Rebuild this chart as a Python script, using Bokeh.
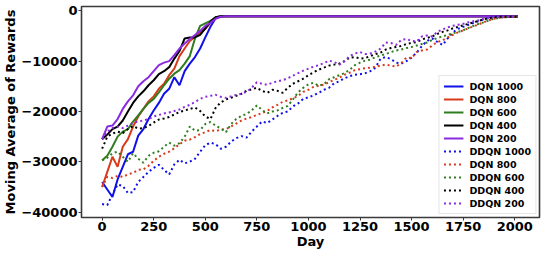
from bokeh.plotting import figure
from bokeh.models import Range1d, FixedTicker
from bokeh.embed import file_html
from bokeh.resources import INLINE

# ---------------- data ----------------
x_ticks = [0, 250, 500, 750, 1000, 1250, 1500, 1750, 2000]
y_ticks = [0, -10000, -20000, -30000, -40000]
y_tick_labels = ["0", "\u221210000", "\u221220000", "\u221230000", "\u221240000"]

dqn_days = [0, 25, 50, 75, 100, 125, 150, 175, 200, 225, 250, 275, 300, 325, 350,
            375, 400, 425, 450, 475, 500, 525, 550, 575, 600, 800, 1200, 1600, 2015]

dqn_1000 = [-34000, -35500, -37000, -33500, -31000, -28500, -28000, -24800, -23500, -21500,
            -19800, -18300, -16500, -15500, -13200, -14800, -12000, -10500, -9200, -7500,
            -5300, -3200, -1500, -1150, -1100,
            -1100, -1100, -1100, -1100]
dqn_800 = [-35000, -32000, -29000, -31000, -27000, -25500, -23000, -21000, -19500, -18000,
           -17000, -15500, -14500, -12800, -11500, -9000, -7500, -6000, -5200, -4300,
           -3600, -2400, -1400, -1150, -1100,
           -1100, -1100, -1100, -1100]
dqn_600 = [-29700, -28800, -27000, -25000, -24000, -23500, -22000, -20800, -19500, -18300,
           -17500, -16200, -14800, -13500, -12500, -11800, -10500, -9000, -5500, -3000,
           -2500, -2000, -1300, -1100, -1100,
           -1100, -1100, -1100, -1100]
dqn_400 = [-25500, -24600, -23500, -23000, -21800, -20000, -18300, -17000, -16000, -14800,
           -13800, -12600, -12000, -11200, -9500, -8000, -5500, -5300, -5300, -4800,
           -3500, -2200, -1300, -1100, -1100,
           -1100, -1100, -1100, -1100]
dqn_200 = [-25500, -23000, -22800, -21500, -19500, -18000, -16800, -15000, -14000, -13200,
           -12000, -10800, -10300, -10000, -8800, -7500, -6500, -5600, -4800, -4000,
           -3000, -2400, -1600, -1200, -1100,
           -1100, -1100, -1100, -1100]

ddqn_days = list(range(0, 1976, 25)) + [2015]

ddqn_1000 = [-38400, -38600, -36500, -34500, -34800, -36200, -36000, -34000, -33000, -32000,
             -31200, -30600, -31600, -32500, -30500, -29600, -30300, -30000, -29400, -28000,
             -26700, -26200, -26500, -27400, -27000, -26000, -25300, -24900, -25200, -24000,
             -23000, -22000, -22300, -21600, -20900, -20300, -20000, -19000, -18400, -17500,
             -17200, -16800, -16300, -15700, -15300, -14400, -14000, -13400, -13000, -12700,
             -12600, -12400, -12000, -11300, -9500, -9200, -9600, -10300, -10500, -10000,
             -9300, -8300, -7000, -6000, -5500, -6200, -6800, -5500, -4300, -3600,
             -3200, -2800, -2400, -2100, -1700, -1400, -1250, -1200, -1200, -1200,
             -1200]
ddqn_800 = [-35000, -33000, -33200, -32800, -33000, -32500, -32200, -31600, -31500, -30800,
            -29800, -29000, -28400, -28000, -27300, -26500, -25800, -25600, -25100, -24500,
            -24100, -23700, -23900, -23600, -23500, -23000, -22400, -21800, -21400, -21100,
            -20700, -20300, -19900, -19200, -18700, -18100, -17800, -17400, -16900, -16100,
            -15700, -15100, -14900, -14700, -14200, -13700, -13300, -12700, -12300, -11800,
            -11600, -11400, -11300, -11100, -10900, -10700, -10900, -11100, -10400, -9300,
            -9400, -8200, -7900, -7700, -6900, -6200, -5900, -5300, -4800, -4300,
            -3900, -3500, -3100, -2700, -2300, -1900, -1600, -1400, -1300, -1200,
            -1200]
ddqn_600 = [-29700, -29200, -28300, -28000, -29000, -30000, -28300, -29400, -30200, -28800,
            -28200, -27900, -27000, -26200, -26800, -26300, -25000, -23000, -23800, -23700,
            -22500, -22100, -22800, -23400, -24100, -22500, -21500, -20900, -20500, -19800,
            -18800, -19700, -20400, -20000, -19800, -19300, -18900, -17600, -16200, -15300,
            -14600, -14300, -14900, -14600, -13600, -13200, -12800, -12400, -11700, -10800,
            -10300, -9900, -9700, -9200, -8900, -8600, -8200, -7900, -7700, -7400,
            -7200, -6900, -6600, -6300, -5800, -5400, -5100, -4800, -4500, -4200,
            -3900, -3400, -3000, -2600, -2300, -1900, -1600, -1400, -1300, -1200,
            -1200]
ddqn_400 = [-27400, -25000, -24400, -24000, -24300, -23500, -22900, -23400, -23300, -22900,
            -22200, -21600, -21400, -21100, -20600, -20100, -19800, -19500, -19200, -19900,
            -21000, -21500, -19300, -18200, -17600, -17300, -16900, -16500, -15900, -15600,
            -15300, -15900, -16300, -15700, -15900, -16300, -15300, -14500, -14000, -13500,
            -12800, -12200, -11700, -11300, -10900, -10700, -10500, -10000, -9300, -9200,
            -9500, -9400, -9000, -8600, -8300, -7700, -7400, -7200, -7000, -6600,
            -6400, -6200, -5700, -5400, -5100, -4600, -4200, -3900, -3500, -3200,
            -2900, -2600, -2300, -2000, -1700, -1500, -1300, -1200, -1200, -1200,
            -1200]
ddqn_200 = [-25500, -24000, -23300, -23000, -23300, -22800, -22300, -22000, -21800, -21500,
            -21000, -20700, -20400, -20200, -19900, -19600, -19100, -18700, -18100, -17500,
            -17100, -16900, -16700, -17100, -17300, -17000, -16700, -16500, -16100, -15300,
            -14200, -14500, -14700, -14300, -14000, -13800, -13400, -12900, -12400, -11900,
            -11500, -11100, -10800, -10400, -9900, -10200, -10700, -10000, -9000, -8500,
            -8200, -8600, -8500, -8100, -7500, -6300, -6400, -6800, -5800, -5600,
            -6000, -6100, -5100, -4900, -5100, -4200, -3700, -3300, -3000, -2800,
            -2600, -2300, -2100, -1900, -1600, -1400, -1300, -1200, -1200, -1200,
            -1200]

series = [
    ("DQN 1000", dqn_days, dqn_1000, "#1010e8", "solid"),
    ("DQN 800", dqn_days, dqn_800, "#d93a1a", "solid"),
    ("DQN 600", dqn_days, dqn_600, "#2e7d1e", "solid"),
    ("DQN 400", dqn_days, dqn_400, "#000000", "solid"),
    ("DQN 200", dqn_days, dqn_200, "#8a2be2", "solid"),
    ("DDQN 1000", ddqn_days, ddqn_1000, "#1010e8", "2 3"),
    ("DQN 800 ", ddqn_days, ddqn_800, "#d93a1a", "2 3"),
    ("DDQN 600", ddqn_days, ddqn_600, "#2e7d1e", "2 3"),
    ("DDQN 400", ddqn_days, ddqn_400, "#000000", "2 3"),
    ("DDQN 200", ddqn_days, ddqn_200, "#8a2be2", "2 3"),
]

# ---------------- figure ----------------
FONT = "DejaVu Sans"
p = figure(width=541, height=251, output_backend="svg", toolbar_location=None,
           x_range=Range1d(-100, 2120), y_range=Range1d(-41060, 843),
           min_border_left=0, min_border_right=2, min_border_top=6, min_border_bottom=0)

p.background_fill_color = "white"
p.border_fill_color = "white"
p.grid.visible = False
p.outline_line_color = "#3a3a3a"
p.outline_line_width = 1.6

p.xaxis.ticker = FixedTicker(ticks=x_ticks)
p.yaxis.ticker = FixedTicker(ticks=y_ticks)
p.yaxis.major_label_overrides = {t: l for t, l in zip(y_ticks, y_tick_labels)}

for ax in (p.xaxis[0], p.yaxis[0]):
    ax.axis_line_color = None
    ax.major_tick_line_color = "#3a3a3a"
    ax.major_tick_out = 3
    ax.major_tick_in = 0
    ax.minor_tick_line_color = None
    ax.major_label_text_font = FONT
    ax.major_label_text_font_style = "bold"
    ax.major_label_text_font_size = "13px"
    ax.major_label_text_color = "black"
    ax.major_label_standoff = 1
    ax.axis_label_text_font = FONT
    ax.axis_label_text_font_style = "bold"
    ax.axis_label_text_font_size = "13px"
    ax.axis_label_text_color = "black"
    ax.axis_label_standoff = 0

p.xaxis.axis_label = "Day"
p.yaxis.axis_label = "Moving Average of Rewards"

for label, xs, ys, color, dash in series:
    p.line(xs, ys, line_color=color, line_width=2,
           line_dash=dash, legend_label=label)

lg = p.legend[0]
lg.location = "bottom_right"
lg.margin = 3
lg.padding = 4
lg.spacing = 1
lg.glyph_width = 20
lg.glyph_height = 12
lg.label_height = 12
lg.label_standoff = 6
lg.label_text_font = FONT
lg.label_text_font_style = "bold"
lg.label_text_font_size = "9.5px"
lg.label_text_color = "black"
lg.border_line_color = "#cccccc"
lg.border_line_width = 1
lg.background_fill_alpha = 0.85

open("out.html", "w").write(file_html(p, INLINE))
